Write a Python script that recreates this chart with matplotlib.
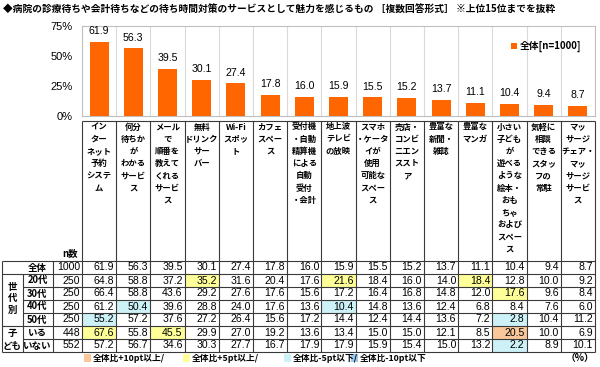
import matplotlib.pyplot as plt
from matplotlib.patches import Rectangle

JP = ['Noto Sans CJK JP', 'DejaVu Sans']
NUM = ['Liberation Sans', 'DejaVu Sans']

title = '◆病院の診療待ちや会計待ちなどの待ち時間対策のサービスとして魅力を感じるもの ［複数回答形式］ ※上位15位までを抜粋'

categories = [
    'イン\nター\nネット\n予約\nシステ\nム',
    '何分\n待ちか\nが\nわかる\nサービ\nス',
    'メール\nで\n順番を\n教えて\nくれる\nサービ\nス',
    '無料\nドリンク\nサー\nバー',
    'Wi-Fi\nスポッ\nト',
    'カフェ\nスペー\nス',
    '受付機\n・自動\n精算機\nによる\n自動\n受付\n・会計',
    '地上波\nテレビ\nの放映',
    'スマホ\n・ケータ\nイが\n使用\n可能な\nスペー\nス',
    '売店・\nコンビ\nニエン\nススト\nア',
    '豊富な\n新聞・\n雑誌',
    '豊富な\nマンガ',
    '小さい\n子ども\nが\n遊べる\nような\n絵本・\nおも\nちゃ\nおよび\nスペー\nス',
    '気軽に\n相談\nできる\nスタッ\nフの\n常駐',
    'マッ\nサージ\nチェア・\nマッ\nサージ\nサービ\nス',
]

legend_label = '全体[n=1000]'
yticks = [0, 25, 50, 75]
ytick_labels = ['0%', '25%', '50%', '75%']

row_labels = ['全体', '20代', '30代', '40代', '50代', 'いる', 'いない']
n_values = [1000, 250, 250, 250, 250, 448, 552]

total   = [61.9, 56.3, 39.5, 30.1, 27.4, 17.8, 16.0, 15.9, 15.5, 15.2, 13.7, 11.1, 10.4, 9.4, 8.7]
age20   = [64.8, 58.8, 37.2, 35.2, 31.6, 20.4, 17.6, 21.6, 18.4, 16.0, 14.0, 18.4, 12.8, 10.0, 9.2]
age30   = [66.4, 58.8, 43.6, 29.2, 27.6, 17.6, 15.6, 17.2, 16.4, 16.8, 14.8, 12.0, 17.6, 9.6, 8.4]
age40   = [61.2, 50.4, 39.6, 28.8, 24.0, 17.6, 13.6, 10.4, 14.8, 13.6, 12.4, 6.8, 8.4, 7.6, 6.0]
age50   = [55.2, 57.2, 37.6, 27.2, 26.4, 15.6, 17.2, 14.4, 12.4, 14.4, 13.6, 7.2, 2.8, 10.4, 11.2]
kids    = [67.6, 55.8, 45.5, 29.9, 27.0, 19.2, 13.6, 13.4, 15.0, 15.0, 12.1, 8.5, 20.5, 10.0, 6.9]
no_kids = [57.2, 56.7, 34.6, 30.3, 27.7, 16.7, 17.9, 17.9, 15.9, 15.4, 15.0, 13.2, 2.2, 8.9, 10.1]
table_rows = [total, age20, age30, age40, age50, kids, no_kids]

diff_labels = ['全体比+10pt以上/', '全体比+5pt以上/', '全体比-5pt以下/', '全体比-10pt以下']
diff_colors = ['#FAC79B', '#FFFF99', '#CCF2F8', '#9CCBEF']

BAR = '#FF6600'
LINE = '#3A3A3A'

fig = plt.figure(figsize=(6, 3.67), dpi=100)

# ---- bar chart ----
ax = fig.add_axes([82 / 600, 1 - 116 / 367, 513 / 600, 90 / 367])
x = list(range(len(total)))
ax.bar(x, total, width=0.56, color=BAR, label=legend_label, zorder=3)
for xi, v in zip(x, total):
    ax.annotate(f'{v:.1f}', (xi, v), xytext=(0, 4), textcoords='offset points',
                ha='center', va='bottom', fontsize=7.6, family=NUM)
ax.set_xlim(-0.5, len(total) - 0.5)
ax.set_ylim(0, 75)
ax.set_xticks([i + 0.5 for i in x[:-1]], minor=True)
ax.set_xticks([])
ax.grid(True, which='minor', axis='x', color='#D9D9D9', lw=0.8)
ax.set_yticks(yticks)
ax.set_yticklabels(ytick_labels, family=NUM, fontsize=8)
ax.tick_params(axis='y', length=0, pad=7)
ax.tick_params(axis='x', which='both', length=0)
for s in ax.spines.values():
    s.set_color('#BFBFBF')
    s.set_linewidth(0.8)
ax.legend(loc='upper right', bbox_to_anchor=(0.99, 0.93), frameon=False,
          handlelength=0.6, handleheight=0.6, handletextpad=0.3,
          prop={'family': JP, 'size': 7, 'weight': 'bold'})

# ---- table drawn in pixel space ----
tb = fig.add_axes([0, 0, 1, 1])
tb.set_xlim(0, 600)
tb.set_ylim(367, 0)
tb.axis('off')

fig.text(3 / 600, 1 - 10 / 367, title, family=JP, fontsize=7.0, weight='bold',
         ha='left', va='center')

x0, cw = 82, 513 / 15
top, rh = 261, 13

def hline(y, xa, xb, lw=0.8):
    tb.plot([xa, xb], [y, y], color=LINE, lw=lw, solid_capstyle='butt')

def vline(xv, ya, yb, lw=0.8):
    tb.plot([xv, xv], [ya, yb], color=LINE, lw=lw, solid_capstyle='butt')

# header
for i, cat in enumerate(categories):
    cx = x0 + cw * (i + 0.5)
    for k, line in enumerate(cat.split('\n')):
        tb.text(cx, 127 + 12.2 * k, line, family=JP, fontsize=6.0, weight='bold',
                ha='center', va='center')
tb.text(78, 253, 'n数', family=JP, fontsize=6.8, weight='bold', ha='right', va='center')

# cell colours and numbers
for r, (lab, n, vals) in enumerate(zip(row_labels, n_values, table_rows)):
    yc = top + rh * (r + 0.5)
    tb.text(37.5, yc, lab, family=JP, fontsize=6.8, weight='bold', ha='center', va='center')
    tb.text(80, yc, str(n), family=NUM, fontsize=7.6, ha='right', va='center')
    for i, v in enumerate(vals):
        d = round(v - total[i], 1)
        col = None
        if r > 0:
            if d >= 10:
                col = diff_colors[0]
            elif d >= 5:
                col = diff_colors[1]
            elif d <= -10:
                col = diff_colors[3]
            elif d <= -5:
                col = diff_colors[2]
        if col:
            tb.add_patch(Rectangle((x0 + cw * i, top + rh * r), cw, rh, color=col, lw=0))
        tb.text(x0 + cw * (i + 1) - 2, yc, f'{v:.1f}', family=NUM, fontsize=7.6,
                ha='right', va='center')

# group labels
for k, ch in enumerate('世代別'):
    tb.text(12.5, 287 + 11.5 * k, ch, family=JP, fontsize=6.8, weight='bold', ha='center', va='center')
tb.text(12.5, 333, '子', family=JP, fontsize=6.8, weight='bold', ha='center', va='center')
tb.text(12.5, 346, 'ども', family=JP, fontsize=6.8, weight='bold', ha='center', va='center')

# grid lines
right = x0 + cw * 15
hline(121, x0, right)
for r in range(8):
    y = top + rh * r
    xa = 2 if r in (0, 1, 5, 7) else 23
    hline(y, xa, right)
vline(2, top, top + rh * 7)
vline(23, top + rh, top + rh * 7)
vline(53, top, top + rh * 7)
for i in range(16):
    vline(x0 + cw * i, 121, top + rh * 7)

# colour legend
sw_x = [84, 183, 284, 351]
for xs, c, t in zip(sw_x, diff_colors, diff_labels):
    tb.add_patch(Rectangle((xs, 354), 7, 8, color=c, lw=0))
    tb.text(xs + 8.5, 358.5, t, family=JP, fontsize=6.3, weight='bold', ha='left', va='center')
tb.text(594, 358.5, '（%）', family=JP, fontsize=7, weight='bold', ha='right', va='center')

fig.savefig('out.png', dpi=100)
